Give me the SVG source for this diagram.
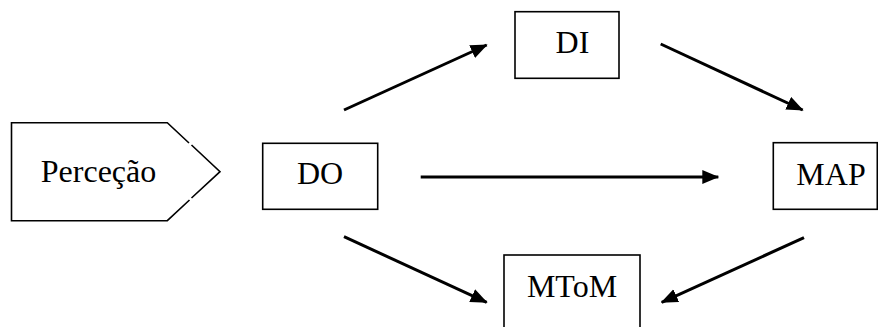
<svg xmlns="http://www.w3.org/2000/svg" width="878" height="327" viewBox="0 0 878 327">
<style>
  .box { fill: #fff; stroke: #000; stroke-width: 1.6; }
  .lbl { font-family: "Liberation Serif", "Times New Roman", serif; font-size: 32px; fill: #000; text-anchor: middle; }
  .conn { stroke: #000; stroke-width: 3; fill: none; marker-end: url(#ah); }
</style>
<defs>
  <marker id="ah" markerUnits="userSpaceOnUse" markerWidth="17" markerHeight="15" refX="16" refY="7" orient="auto">
    <path d="M0,0 L17,7 L0,14 z" fill="#000"/>
  </marker>
</defs>
<rect width="878" height="327" fill="#fff"/>
<g id="percecao">
  <path class="box" d="M189,143 L167.3,122.7 L11.5,122.7 L11.5,220.7 L167.3,220.7 L189.5,200"/>
  <path class="box" d="M191.5,145 L220,171.7 L191.5,198" fill="none"/>
  <text class="lbl" x="98.5" y="182">Perceção</text>
</g>
<g id="do">
  <rect class="box" x="262.7" y="143.3" width="115" height="66"/>
  <text class="lbl" x="320" y="184.3">DO</text>
</g>
<g id="di">
  <rect class="box" x="515" y="11.7" width="104" height="66.6"/>
  <text class="lbl" x="572.5" y="53.3">DI</text>
</g>
<g id="map">
  <rect class="box" x="773.3" y="142.7" width="104" height="66.6"/>
  <text class="lbl" x="831" y="185">MAP</text>
</g>
<g id="mtom">
  <rect class="box" x="504" y="255" width="136" height="80"/>
  <text class="lbl" x="572" y="296.7">MToM</text>
</g>
<g id="connectors">
  <line class="conn" x1="344" y1="110" x2="486.7" y2="45"/>
  <line class="conn" x1="660.7" y1="44" x2="802.7" y2="110"/>
  <line class="conn" x1="420.7" y1="177" x2="718.3" y2="177"/>
  <line class="conn" x1="344" y1="236.7" x2="486.7" y2="302.3"/>
  <line class="conn" x1="804" y1="237.7" x2="661.7" y2="302.3"/>
</g>
</svg>
